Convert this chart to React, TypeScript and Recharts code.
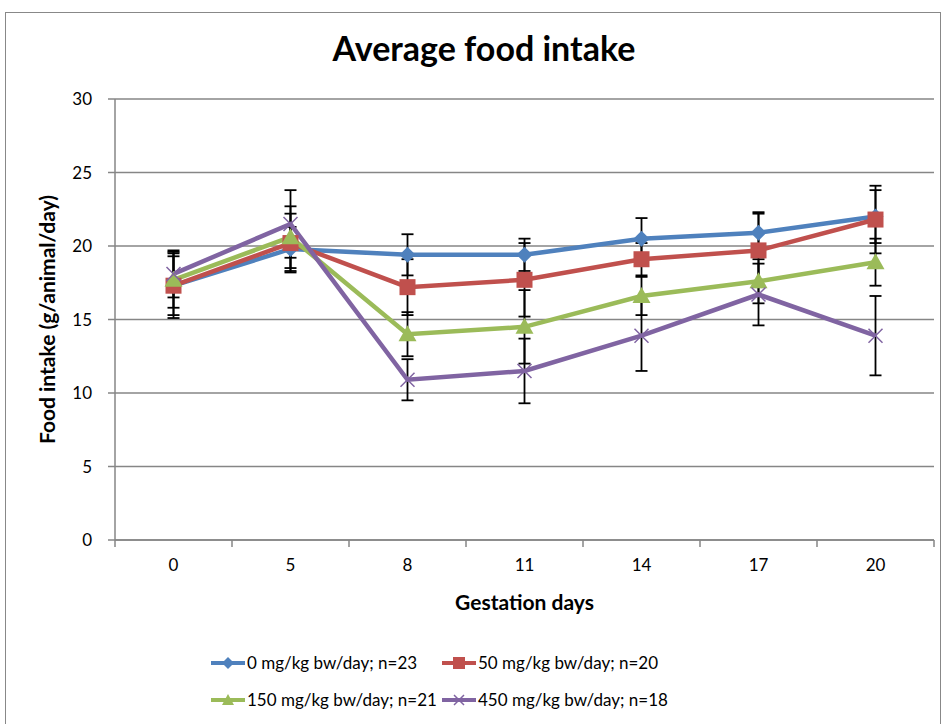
import React from 'react';
import { LineChart, Line, XAxis, YAxis, CartesianGrid, ErrorBar } from 'recharts';

const days = ['0', '5', '8', '11', '14', '17', '20'];
const yTicks = [0, 5, 10, 15, 20, 25, 30];

const dose0 = [17.3, 19.8, 19.4, 19.4, 20.5, 20.9, 22.0];
const dose0Err = [2.2, 1.5, 1.4, 1.1, 1.4, 1.4, 1.8];
const dose50 = [17.3, 20.2, 17.2, 17.7, 19.1, 19.7, 21.8];
const dose50Err = [2.0, 2.0, 1.9, 2.5, 1.1, 2.5, 2.3];
const dose150 = [17.7, 20.6, 14.0, 14.5, 16.6, 17.6, 18.9];
const dose150Err = [1.9, 2.1, 1.5, 2.5, 1.3, 1.5, 1.6];
const dose450 = [18.1, 21.5, 10.9, 11.5, 13.9, 16.7, 13.9];
const dose450Err = [1.6, 2.3, 1.4, 2.2, 2.4, 2.1, 2.7];

const seriesNames = [
  '0 mg/kg bw/day; n=23',
  '50 mg/kg bw/day; n=20',
  '150 mg/kg bw/day; n=21',
  '450 mg/kg bw/day; n=18',
];

const BLUE = '#4F81BD';
const RED = '#C0504D';
const GREEN = '#9BBB59';
const PURPLE = '#8064A2';
const AXIS = '#868686';
const FONT = 'Lato, "Open Sans", sans-serif';

const W = 944;
const H = 724;
const M = { top: 99, right: 10, bottom: 154, left: 55 };
const Y_W = 60;
const BAND = (W - M.left - M.right - Y_W) / days.length;

const data = days.map((d, i) => ({
  day: d,
  a: dose0[i], aErr: dose0Err[i],
  b: dose50[i], bErr: dose50Err[i],
  c: dose150[i], cErr: dose150Err[i],
  d: dose450[i], dErr: dose450Err[i],
}));

const Diamond = (p: any) => {
  const { cx, cy, key } = p;
  if (cx == null || cy == null) return <g key={key} />;
  const s = 8;
  return <path key={key} d={`M${cx},${cy - s}L${cx + s},${cy}L${cx},${cy + s}L${cx - s},${cy}Z`} fill={BLUE} />;
};
const Square = (p: any) => {
  const { cx, cy, key } = p;
  if (cx == null || cy == null) return <g key={key} />;
  return <rect key={key} x={cx - 8} y={cy - 8} width={16} height={16} fill={RED} />;
};
const Tri = (p: any) => {
  const { cx, cy, key } = p;
  if (cx == null || cy == null) return <g key={key} />;
  return <path key={key} d={`M${cx},${cy - 9}L${cx + 9},${cy + 7}L${cx - 9},${cy + 7}Z`} fill={GREEN} />;
};
const Cross = (p: any) => {
  const { cx, cy, key } = p;
  if (cx == null || cy == null) return <g key={key} />;
  const s = 7;
  return (
    <path key={key} d={`M${cx - s},${cy - s}L${cx + s},${cy + s}M${cx - s},${cy + s}L${cx + s},${cy - s}`} stroke={PURPLE} strokeWidth={1.5} fill="none" />
  );
};

const XTick = (props: any) => {
  const { x, y, payload, index } = props;
  const left = x - BAND / 2;
  return (
    <g>
      <line x1={left} y1={y - 8} x2={left} y2={y - 1} stroke={AXIS} strokeWidth={1.5} />
      {index === days.length - 1 && (
        <line x1={left + BAND} y1={y - 8} x2={left + BAND} y2={y - 1} stroke={AXIS} strokeWidth={1.5} />
      )}
      <text x={x} y={y + 23} textAnchor="middle" fontSize={17} fill="#000" fontFamily={FONT}>
        {payload.value}
      </text>
    </g>
  );
};

const markers = [
  (c: string) => <path d="M17,2L23,8L17,14L11,8Z" fill={c} />,
  (c: string) => <rect x={11} y={2} width={12} height={12} fill={c} />,
  (c: string) => <path d="M17,2L23,13L11,13Z" fill={c} />,
  (c: string) => <path d="M12,3L22,13M12,13L22,3" stroke={c} strokeWidth={1.5} />,
];
const colors = [BLUE, RED, GREEN, PURPLE];

const LegendItem = ({ i, left, top }: { i: number; left: number; top: number }) => (
  <div style={{ position: 'absolute', left, top, display: 'flex', alignItems: 'center', whiteSpace: 'nowrap' }}>
    <svg width={34} height={16} style={{ marginRight: 2 }}>
      <line x1={0} y1={8} x2={34} y2={8} stroke={colors[i]} strokeWidth={4} />
      {markers[i](colors[i])}
    </svg>
    <span style={{ fontSize: 17, fontFamily: FONT, color: '#000' }}>{seriesNames[i]}</span>
  </div>
);

export default function App() {
  return (
    <div style={{ position: 'absolute', left: 0, top: 0, width: W, height: H, background: '#fff', overflow: 'hidden' }}>
      <div style={{ position: 'absolute', left: 5, top: 12, width: 934, height: 730, border: '1.5px solid #888' }} />
      <div
        style={{
          position: 'absolute', left: 234, width: 500, top: 27, textAlign: 'center',
          fontFamily: FONT, fontWeight: 'bold', fontSize: 34, color: '#000',
        }}
      >
        Average food intake
      </div>
      <div style={{ position: 'absolute', left: 0, top: 0 }}>
        <LineChart width={W} height={H} data={data} margin={M}>
          <CartesianGrid vertical={false} stroke={AXIS} strokeWidth={1.5} />
          <XAxis
            dataKey="day"
            stroke={AXIS}
            strokeWidth={1.5}
            tickLine={false}
            tick={<XTick />}
            height={30}
            interval={0}
            padding={{ left: BAND / 2, right: BAND / 2 }}
            label={{ value: 'Gestation days', position: 'insideBottom', offset: -40, fontSize: 21, fontWeight: 'bold', fill: '#000', fontFamily: FONT }}
          />
          <YAxis
            domain={[0, 30]}
            ticks={yTicks}
            width={Y_W}
            stroke={AXIS}
            strokeWidth={1.5}
            tickSize={7}
            tick={{ fontSize: 17, fill: '#000', fontFamily: FONT }}
            tickMargin={16}
            allowDataOverflow
            label={{ value: 'Food intake (g/animal/day)', angle: -90, position: 'center', dx: -37, fontSize: 21, fontWeight: 'bold', fill: '#000', fontFamily: FONT }}
          />
          <Line dataKey="a" stroke={BLUE} strokeWidth={4.5} dot={Diamond} isAnimationActive={false}>
            <ErrorBar dataKey="aErr" width={6} stroke="#000" strokeWidth={1.8} direction="y" isAnimationActive={false} />
          </Line>
          <Line dataKey="b" stroke={RED} strokeWidth={4.5} dot={Square} isAnimationActive={false}>
            <ErrorBar dataKey="bErr" width={6} stroke="#000" strokeWidth={1.8} direction="y" isAnimationActive={false} />
          </Line>
          <Line dataKey="c" stroke={GREEN} strokeWidth={4.5} dot={Tri} isAnimationActive={false}>
            <ErrorBar dataKey="cErr" width={6} stroke="#000" strokeWidth={1.8} direction="y" isAnimationActive={false} />
          </Line>
          <Line dataKey="d" stroke={PURPLE} strokeWidth={4.5} dot={Cross} isAnimationActive={false}>
            <ErrorBar dataKey="dErr" width={6} stroke="#000" strokeWidth={1.8} direction="y" isAnimationActive={false} />
          </Line>
        </LineChart>
      </div>
      <LegendItem i={0} left={211} top={652} />
      <LegendItem i={1} left={442} top={652} />
      <LegendItem i={2} left={211} top={689} />
      <LegendItem i={3} left={442} top={689} />
    </div>
  );
}
